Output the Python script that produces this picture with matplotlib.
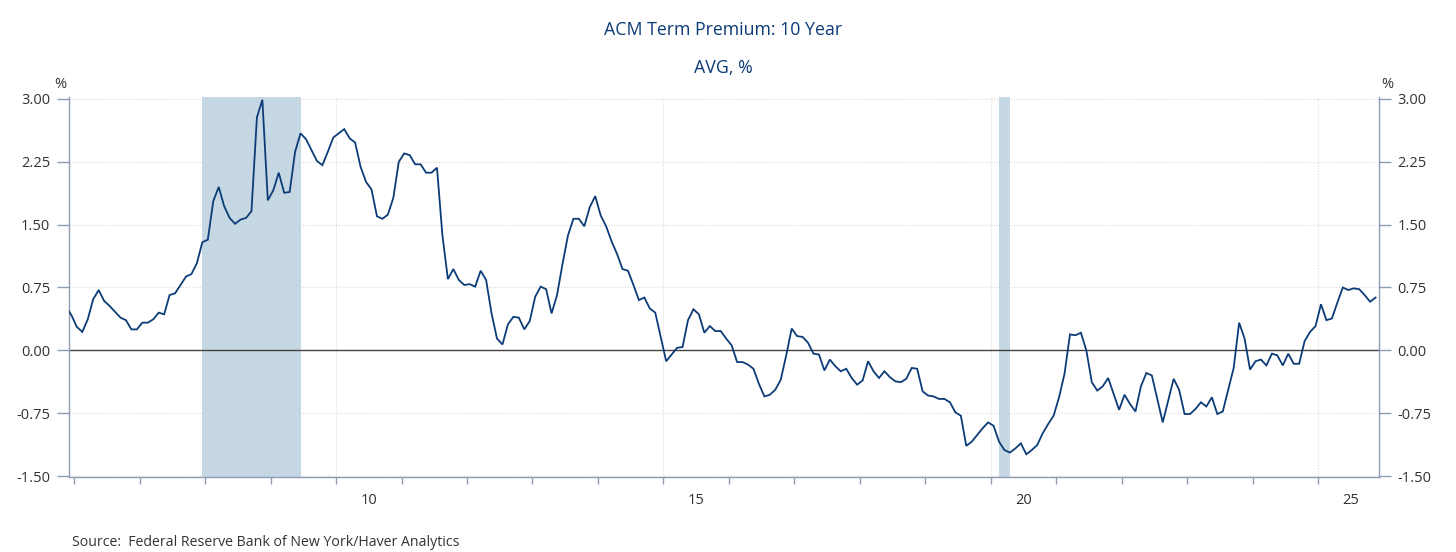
import matplotlib
matplotlib.use("Agg")
import matplotlib.pyplot as plt
import numpy as np
import pandas as pd

plt.rcParams['font.family'] = ['Open Sans', 'DejaVu Sans']

# monthly ACM 10y term premium, Nov 2005 .. Nov 2025
start_month = "2005-11"
term_premium = [
    0.52, 0.42,
    0.28, 0.22, 0.37, 0.61, 0.72, 0.59, 0.53, 0.46, 0.39, 0.36, 0.25, 0.25,
    0.33, 0.33, 0.37, 0.45, 0.43, 0.66, 0.68, 0.78, 0.88, 0.91, 1.04, 1.29,
    1.32, 1.78, 1.95, 1.72, 1.58, 1.51, 1.56, 1.58, 1.66, 2.78, 2.99, 1.79,
    1.91, 2.12, 1.88, 1.89, 2.37, 2.59, 2.52, 2.39, 2.26, 2.21, 2.37, 2.54,
    2.59, 2.64, 2.53, 2.48, 2.19, 2.01, 1.92, 1.60, 1.57, 1.62, 1.82, 2.25,
    2.35, 2.33, 2.22, 2.22, 2.12, 2.12, 2.18, 1.37, 0.85, 0.97, 0.84, 0.78,
    0.79, 0.76, 0.95, 0.84, 0.44, 0.14, 0.07, 0.31, 0.40, 0.39, 0.25, 0.35,
    0.64, 0.76, 0.73, 0.44, 0.66, 1.03, 1.37, 1.57, 1.57, 1.48, 1.71, 1.84,
    1.61, 1.48, 1.30, 1.15, 0.97, 0.95, 0.78, 0.60, 0.63, 0.50, 0.45, 0.16,
    -0.13, -0.05, 0.03, 0.04, 0.36, 0.49, 0.43, 0.21, 0.29, 0.23, 0.23, 0.14,
    0.06, -0.14, -0.14, -0.17, -0.22, -0.40, -0.55, -0.53, -0.47, -0.35, -0.06, 0.26,
    0.17, 0.16, 0.09, -0.04, -0.05, -0.24, -0.11, -0.19, -0.25, -0.22, -0.33, -0.41,
    -0.36, -0.13, -0.25, -0.33, -0.25, -0.32, -0.37, -0.38, -0.34, -0.21, -0.22, -0.49,
    -0.54, -0.55, -0.58, -0.58, -0.62, -0.74, -0.78, -1.14, -1.09, -1.01, -0.93, -0.86,
    -0.90, -1.09, -1.19, -1.22, -1.17, -1.11, -1.24, -1.19, -1.13, -0.99, -0.88, -0.78,
    -0.56, -0.28, 0.19, 0.18, 0.21, 0.00, -0.38, -0.48, -0.43, -0.33, -0.52, -0.71,
    -0.53, -0.64, -0.73, -0.43, -0.27, -0.30, -0.58, -0.86, -0.60, -0.34, -0.47, -0.76,
    -0.76, -0.70, -0.62, -0.67, -0.56, -0.76, -0.73, -0.47, -0.21, 0.33, 0.14, -0.23,
    -0.13, -0.11, -0.18, -0.04, -0.06, -0.18, -0.04, -0.16, -0.16, 0.11, 0.22, 0.29,
    0.55, 0.36, 0.38, 0.57, 0.75, 0.72, 0.74, 0.73, 0.66, 0.58, 0.63,
]
recessions = [("2007-12", "2009-06"), ("2020-02", "2020-04")]
y_ticks = [-1.50, -0.75, 0.00, 0.75, 1.50, 2.25, 3.00]
x_labels = ["10", "15", "20", "25"]
label_years = [2010, 2015, 2020, 2025]


def to_year(month):
    # decimal year at mid-month
    p = pd.Period(month, freq="M")
    return p.year + (p.month - 0.5) / 12


dates = pd.period_range(start_month, periods=len(term_premium), freq="M")
x = np.array([d.year + (d.month - 0.5) / 12 for d in dates])
y = np.array(term_premium)

navy = "#0c3c78"
spine_c = "#8c9db5"
text_c = "#333333"

fig = plt.figure(figsize=(14.56, 5.52), dpi=100)
ax = fig.add_axes([69 / 1456, 1 - 476.7 / 552, 1309.5 / 1456, 380 / 552])

for s, e in recessions:
    ax.axvspan(to_year(s), to_year(e), color="#c5d7e2", lw=0, zorder=1)

for v in y_ticks:
    if v != 0:
        ax.axhline(v, color="#dadada", lw=0.8, ls=(0, (1, 1.5)), zorder=0)
for yr in label_years:
    ax.axvline(yr, color="#dadada", lw=0.8, ls=(0, (1, 1.5)), zorder=0)
ax.axhline(0, color="#444444", lw=1.0, zorder=2)

ax.plot(x, y, color=navy, lw=1.3, zorder=3, solid_joinstyle="miter")

ax.set_xlim(2005.922, 2025.92)
ax.set_ylim(-1.508, 3.027)

ax.spines["top"].set_visible(False)
for side in ["left", "right", "bottom"]:
    ax.spines[side].set_color(spine_c)
    ax.spines[side].set_linewidth(1.0)

ax.set_xticks(np.arange(2006, 2026))
ax.set_xticklabels([])
ax.set_xticks([yr + 0.5 for yr in label_years], minor=True)
ax.set_xticklabels(x_labels, minor=True)
ax.tick_params(axis="x", which="major", length=5, width=1, color=spine_c)
ax.tick_params(axis="x", which="minor", length=0, pad=12, labelsize=10.5,
               labelcolor=text_c)

ax.set_yticks(y_ticks)
ax.set_yticklabels([f"{v:.2f}" for v in y_ticks])
ax.tick_params(axis="y", which="both", length=8.5, width=1, color=spine_c,
               labelsize=10.5, labelcolor=text_c, pad=5,
               left=True, right=True, labelleft=True, labelright=True)

fig.text(60 / 1456, 1 - 84 / 552, "%", ha="center", va="center",
         fontsize=10.5, color=text_c)
fig.text(1387 / 1456, 1 - 84 / 552, "%", ha="center", va="center",
         fontsize=10.5, color=text_c)

fig.text(723 / 1456, 1 - 30 / 552, "ACM Term Premium: 10 Year", ha="center",
         va="center", fontsize=12.8, color=navy)
fig.text(723 / 1456, 1 - 68 / 552, "AVG, %", ha="center", va="center",
         fontsize=12.8, color=navy)
fig.text(72 / 1456, 1 - 542 / 552,
         "Source:  Federal Reserve Bank of New York/Haver Analytics",
         ha="left", va="center", fontsize=10.2, color=text_c)

fig.savefig("out.png", dpi=100, facecolor="white")
